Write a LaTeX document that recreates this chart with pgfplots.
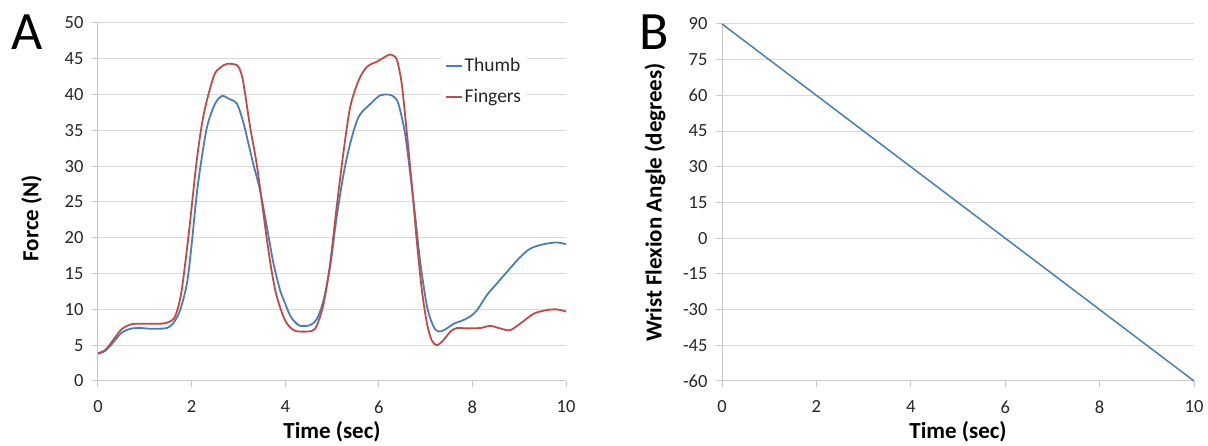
\documentclass[border=0pt]{standalone}
\usepackage{pgfplots}
\pgfplotsset{compat=1.18}
\usepackage{fontspec}
\setmainfont{Carlito}
\definecolor{thumb}{HTML}{4A7EBB}
\definecolor{fingers}{HTML}{BE4B48}
\definecolor{gridc}{HTML}{D9D9D9}
\definecolor{axisc}{HTML}{C8C8C8}
\pgfplotsset{
  common/.style={
    scale only axis,
    xmin=0, xmax=10,
    xtick={0,2,...,10},
    axis x line*=bottom, axis y line*=left,
    axis line style={-, color=axisc, line width=1pt},
    ymajorgrids,
    grid style={color=gridc, line width=1pt},
    tick align=outside,
    major tick length=6pt,
    tick style={color=axisc, line width=1pt},
    /pgf/number format/assume math mode=true,
    ticklabel style={font=\fontsize{18.5}{20}\selectfont, color=black!85},
    xticklabel style={yshift=-10pt},
    yticklabel style={xshift=-5pt},
    every axis x label/.style={at={(axis description cs:0.5,-0.142)}, anchor=center, font=\bfseries\fontsize{23}{26}\selectfont},
    every axis y label/.style={at={(axis description cs:-0.142,0.5)}, rotate=90, anchor=center, font=\bfseries\fontsize{23}{26}\selectfont},
    clip=false,
  }
}
\begin{document}
\begin{tikzpicture}
\useasboundingbox (0,0) rectangle (1208pt,446pt);
\begin{axis}[common,
  at={(98pt,65pt)}, anchor=south west,
  width=468pt, height=358pt,
  ymin=0, ymax=50, ytick={0,5,...,50},
  xlabel={Time (sec)}, ylabel={Force (N)},
  ylabel style={at={(axis description cs:-0.142,0.455)}},
  legend style={at={(axis cs:7.16,46.9)}, anchor=north west, draw=none, fill=white,
    font=\fontsize{19.5}{22}\selectfont, text=black!85, row sep=12pt, inner xsep=4pt, inner ysep=4pt,
    xshift=8pt, yshift=-7pt},
  legend cell align=left,
  legend image code/.code={\draw[#1, line width=1.3pt] (0pt,0pt) -- (16pt,0pt);},
]
\addplot[thumb, line width=1.8pt, smooth] coordinates {
(0,3.8) (0.15,4.2) (0.3,5.2) (0.5,6.7) (0.7,7.3) (0.9,7.4) (1.1,7.3) (1.3,7.3)
(1.47,7.4) (1.6,8.0) (1.75,9.8) (1.9,13.6) (2.0,19.0) (2.1,25.5) (2.19,30)
(2.33,35.5) (2.5,38.7) (2.65,39.8) (2.8,39.4) (2.97,38.7) (3.11,36.0) (3.22,33)
(3.33,30) (3.45,27) (3.54,24) (3.65,20) (3.75,16.4) (3.89,12.7) (3.97,11.3)
(4.1,9.2) (4.2,8.3) (4.32,7.7) (4.53,7.8) (4.68,8.7) (4.82,11.3) (4.96,16)
(5.1,22.9) (5.25,29) (5.39,33.2) (5.57,36.9) (5.82,38.7) (6.03,39.9) (6.21,40.0)
(6.32,39.7) (6.42,38.7) (6.56,34.6) (6.67,29) (6.78,22.9) (6.88,16.9) (7.03,10.4)
(7.17,7.6) (7.28,6.9) (7.42,7.2) (7.6,8.0) (7.77,8.4) (7.95,9.0) (8.1,9.9)
(8.31,12) (8.52,13.6) (8.8,15.7) (9.02,17.3) (9.24,18.5) (9.52,19.1) (9.8,19.35)
(10,19.1)};
\addlegendentry{Thumb}
\addplot[fingers, line width=1.8pt, smooth] coordinates {
(0,3.9) (0.15,4.3) (0.3,5.5) (0.5,7.2) (0.7,7.9) (0.9,8.0) (1.1,8.0) (1.3,8.0)
(1.45,8.1) (1.62,8.7) (1.72,10.5) (1.8,13.2) (1.94,20.6) (2.11,30.8) (2.26,37.3)
(2.47,42.5) (2.6,43.7) (2.76,44.3) (2.97,44.1) (3.05,43.2) (3.11,41.5) (3.25,35.5)
(3.4,29.9) (3.61,19.7) (3.72,15) (3.82,11.8) (3.95,9.2) (4.04,8.0) (4.18,7.1)
(4.32,6.9) (4.57,7.0) (4.68,7.8) (4.82,10.8) (4.96,16.4) (5.1,24.3) (5.25,32.2)
(5.39,38.3) (5.57,42) (5.75,43.9) (5.96,44.6) (6.14,45.3) (6.24,45.6) (6.32,45.4)
(6.39,44.8) (6.49,41.5) (6.6,34.6) (6.71,27.1) (6.81,19.7) (6.92,12.7) (7.03,8.0)
(7.13,5.7) (7.24,5.0) (7.38,5.7) (7.53,6.9) (7.67,7.4) (7.88,7.35) (8.17,7.4)
(8.38,7.7) (8.59,7.35) (8.8,7.1) (9.02,8.0) (9.31,9.4) (9.59,9.9) (9.8,10.0)
(10,9.7)};
\addlegendentry{Fingers}
\end{axis}
\begin{axis}[common,
  at={(722pt,65pt)}, anchor=south west,
  width=472pt, height=357pt,
  ymin=-60, ymax=90, ytick={-60,-45,...,90},
  xlabel={Time (sec)}, ylabel={Wrist Flexion Angle (degrees)},
]
\addplot[thumb, line width=1.5pt] coordinates {(0,90) (10,-60)};
\end{axis}
\node[font=\fontsize{54}{54}\selectfont] at (27pt,414pt) {A};
\node[font=\fontsize{54}{54}\selectfont] at (654pt,414pt) {B};
\end{tikzpicture}
\end{document}
